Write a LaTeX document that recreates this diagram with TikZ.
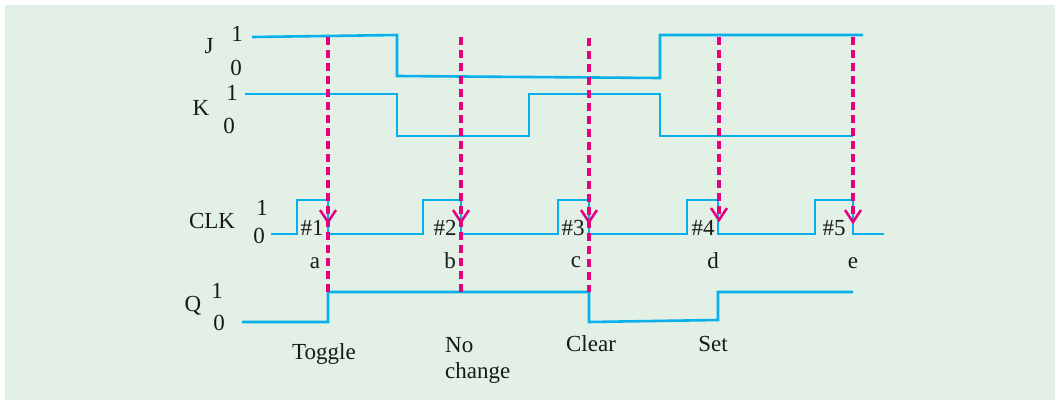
\documentclass[tikz,border=0pt]{standalone}
\usepackage{fontspec}
\setmainfont{Liberation Serif}
\definecolor{bgc}{RGB}{226,240,230}
\definecolor{sig}{RGB}{10,176,235}
\definecolor{mag}{RGB}{230,0,126}
\tikzset{
  wave/.style={draw=sig, line width=2.6pt, line join=miter},
  guide/.style={draw=mag, line width=3.2pt, dash pattern=on 8pt off 5pt},
  vtip/.style={draw=mag, line width=2.6pt},
  lbl/.style={font=\fontsize{23}{27}\selectfont, inner sep=0pt, anchor=base, text=black!90},
}
\begin{document}
\begin{tikzpicture}[x=1pt,y=-1pt]
\useasboundingbox (0,0) rectangle (1055,400);
\fill[white] (0,0) rectangle (1055,400);
\fill[bgc] (5,5) rectangle (1055,400);

% labels
\node[lbl] (J) at (209,53) {J};
\node[lbl] (J1) at (237,41) {1};
\node[lbl] (J0) at (236,75) {0};
\node[lbl] (K) at (201,115) {K};
\node[lbl] (K1) at (232,100) {1};
\node[lbl] (K0) at (229,133) {0};
\node[lbl] (CLK) at (212,228) {CLK};
\node[lbl] (C1) at (262,215) {1};
\node[lbl] (C0) at (259,243) {0};
\node[lbl] (Q) at (193,311) {Q};
\node[lbl] (Q1) at (217,298) {1};
\node[lbl] (Q0) at (219,330) {0};

% waves
\draw[wave] (252,37) -- (397,35) -- (397,76) -- (660,78) -- (660,35) -- (863,35);
\draw[wave] (245,94) -- (397,94) -- (397,136) -- (529,136) -- (529,94) -- (660,94) -- (660,136) -- (853,136);
\draw[wave] (271,234) -- (297,234) -- (297,200) -- (328,200) -- (328,234)
  -- (423,234) -- (423,200) -- (461,200) -- (461,234)
  -- (558,234) -- (558,200) -- (589,200) -- (589,234)
  -- (687,234) -- (687,200) -- (718,200) -- (718,234)
  -- (815,234) -- (815,200) -- (853,200) -- (853,234) -- (884,234);
\draw[wave] (242,322) -- (328,322) -- (328,292) -- (589,292) -- (589,322) -- (718,320) -- (718,292) -- (853,292);

% pulse numbers
\node[lbl] (p1) at (312,235) {\#1};
\node[lbl] (p2) at (445,235) {\#2};
\node[lbl] (p3) at (573,235) {\#3};
\node[lbl] (p4) at (703,235) {\#4};
\node[lbl] (p5) at (834,235) {\#5};

% edge letters
\node[lbl] (la) at (315,268) {a};
\node[lbl] (lb) at (450,268) {b};
\node[lbl] (lc) at (576,267) {c};
\node[lbl] (ld) at (713,268) {d};
\node[lbl] (le) at (853,268) {e};

% guides
\coordinate (ga) at (328,37); \coordinate (ga2) at (328,292);
\coordinate (gb) at (461,37); \coordinate (gb2) at (461,292);
\coordinate (gc) at (589,38); \coordinate (gc2) at (589,292);
\coordinate (gd) at (719,37); \coordinate (gd2) at (719,220);
\coordinate (ge) at (853,37); \coordinate (ge2) at (853,220);
\draw[guide] (ga) -- (ga2);
\draw[guide] (gb) -- (gb2);
\draw[guide] (gc) -- (gc2);
\draw[guide] (gd) -- (gd2);
\draw[guide] (ge) -- (ge2);
\foreach \x/\t in {328/222, 461/222, 589/222, 719/220, 853/222}{
  \draw[vtip] (\x-8,\t-12) -- (\x,\t) -- (\x+8,\t-12);
}

% outcome labels
\node[lbl] (tog) at (324,359) {Toggle};
\node[lbl, anchor=base west] (no1) at (445,352) {No};
\node[lbl, anchor=base west] (no2) at (445,378) {change};
\node[lbl] (clr) at (591,351) {Clear};
\node[lbl] (set) at (713,351) {Set};
\end{tikzpicture}
\end{document}
